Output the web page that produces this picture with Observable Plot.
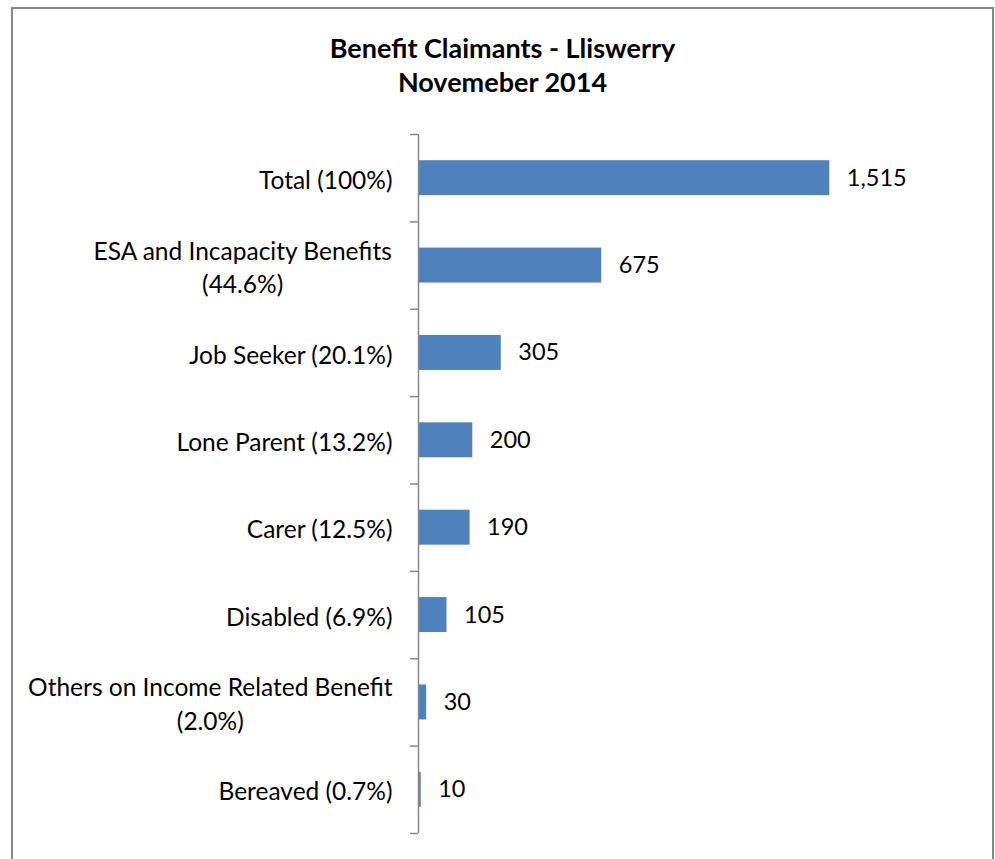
<!DOCTYPE html>
<html>
<head>
<meta charset="utf-8">
<script src="https://cdn.jsdelivr.net/npm/d3@7"></script>
<script src="https://cdn.jsdelivr.net/npm/@observablehq/plot@0.6"></script>
<style>
  html, body { margin: 0; padding: 0; background: #fff; }
  body { width: 995px; height: 859px; position: relative; overflow: hidden; font-family: Lato, sans-serif; }
  #frame { position: absolute; left: 11px; top: 7px; width: 983px; height: 900px; border: 2px solid #878787; box-sizing: border-box; }
  #title { position: absolute; left: 0; top: 31px; width: 1005px; text-align: center; font-weight: bold; font-size: 27px; line-height: 34px; color: #000; }
  #chart { position: absolute; left: 0; top: 120px; }
</style>
</head>
<body>
<div id="frame"></div>
<div id="title">Benefit Claimants - Lliswerry<br>Novemeber 2014</div>
<div id="chart"></div>
<script>
const categories = [
  "Total (100%)",
  "ESA and Incapacity Benefits\n(44.6%)",
  "Job Seeker (20.1%)",
  "Lone Parent (13.2%)",
  "Carer (12.5%)",
  "Disabled (6.9%)",
  "Others on Income Related Benefit\n(2.0%)",
  "Bereaved (0.7%)"
];
const values = [1515, 675, 305, 200, 190, 105, 30, 10];
const boundaries = d3.range(categories.length + 1);

const data = categories.map((c, i) => ({category: c, value: values[i], idx: i}));
const fmt = d3.format(",");

const labelFont = "24.5px Lato";
const ctx = document.createElement("canvas").getContext("2d");
ctx.font = labelFont;
const blockWidth = s => Math.max(...s.split("\n").map(l => ctx.measureText(l).width));

const labelMarks = data.map(d => {
  const multi = d.category.includes("\n");
  return Plot.text([d], {
    x: 0, y: e => e.idx + 0.5, text: "category",
    textAnchor: multi ? "middle" : "end",
    dx: multi ? -(26 + blockWidth(d.category) / 2) : -26,
    lineHeight: 1.35, fontSize: 24.5, fill: "#000"
  });
});

const chart = Plot.plot({
  width: 995,
  height: 730,
  marginLeft: 418,
  marginRight: 142.6,
  marginTop: 14,
  marginBottom: 17,
  style: {fontFamily: "Lato, sans-serif", fontSize: "23.5px", color: "#000", background: "transparent"},
  x: {domain: [0, 1600], axis: null},
  y: {domain: [0, categories.length], reverse: true, axis: null},
  marks: [
    Plot.rect(data, {x1: 0, x2: "value", y1: d => d.idx + 0.3, y2: d => d.idx + 0.7, fill: "#4F81BD"}),
    Plot.ruleX([0], {y1: 0, y2: categories.length, stroke: "#878787", strokeWidth: 1.5}),
    Plot.axisY({ticks: boundaries, tickSize: 8, tickFormat: () => "", stroke: "#878787", strokeWidth: 1.5, strokeOpacity: 1}),
    ...labelMarks,
    Plot.text(data, {x: "value", y: d => d.idx + 0.5, text: d => fmt(d.value), textAnchor: "start", dx: 17, fontSize: 23.5, fill: "#000"})
  ]
});
document.getElementById("chart").appendChild(chart);
</script>
</body>
</html>
